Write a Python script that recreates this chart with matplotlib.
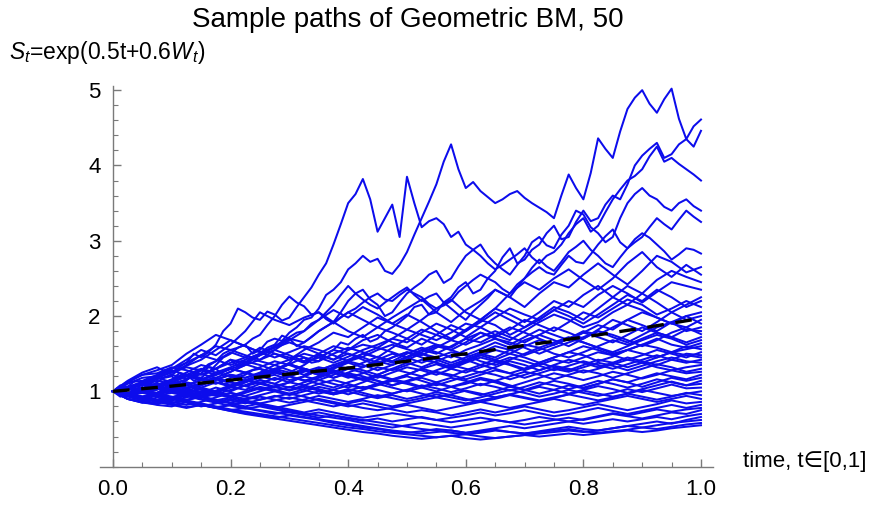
import numpy as np
import matplotlib
matplotlib.use('Agg')
import matplotlib.pyplot as plt
from matplotlib.ticker import MultipleLocator

plt.rcParams['font.family'] = ['Liberation Sans', 'DejaVu Sans']
plt.rcParams['mathtext.fontset'] = 'custom'
plt.rcParams['mathtext.rm'] = 'Liberation Sans'
plt.rcParams['mathtext.it'] = 'Liberation Sans:italic'

title = 'Sample paths of Geometric BM, 50'
ylabel = r'$S_t$=exp(0.5t+0.6$W_t$)'
xlabel = 'time, t\u2208[0,1]'

# the six paths that stand out above the band, read at t = 0, 0.0125, ..., 1.0 (81 points)
top_paths = [
    [1.00, 1.04, 0.98, 1.01, 1.06, 1.00, 1.02, 1.08, 1.10, 1.07,
     1.15, 1.22, 1.28, 1.25, 1.35, 1.45, 1.50, 1.58, 1.62, 1.50,
     1.55, 1.66, 1.70, 1.67, 1.78, 1.85, 1.95, 1.98, 2.10, 2.28,
     2.35, 2.45, 2.62, 2.70, 2.80, 2.72, 2.76, 2.60, 2.56, 2.68,
     2.85, 3.08, 3.30, 3.52, 3.75, 4.05, 4.28, 3.95, 3.70, 3.78,
     3.66, 3.58, 3.50, 3.55, 3.62, 3.66, 3.57, 3.50, 3.44, 3.38,
     3.30, 3.60, 3.88, 3.70, 3.55, 3.90, 4.36, 4.22, 4.10, 4.45,
     4.75, 4.90, 5.00, 4.82, 4.70, 4.88, 5.02, 4.62, 4.35, 4.52,
     4.61],
    [1.00, 1.08, 1.06, 1.14, 1.12, 1.10, 1.20, 1.28, 1.25, 1.32,
     1.38, 1.50, 1.45, 1.52, 1.62, 1.80, 1.90, 2.10, 2.05, 1.98,
     1.95, 2.06, 2.02, 1.94, 1.98, 2.12, 2.25, 2.38, 2.55, 2.70,
     2.95, 3.22, 3.50, 3.62, 3.82, 3.55, 3.12, 3.30, 3.48, 3.05,
     3.85, 3.50, 3.18, 3.26, 3.30, 3.22, 3.05, 3.12, 2.95, 2.88,
     2.80, 2.70, 2.62, 2.68, 2.75, 2.82, 2.90, 2.78, 2.70, 2.80,
     2.85, 2.95, 3.10, 3.22, 3.30, 3.12, 3.20, 3.38, 3.55, 3.68,
     3.80, 3.86, 3.95, 4.12, 4.25, 4.05, 4.10, 4.02, 3.95, 3.88,
     3.80],
    [1.00, 0.93, 0.95, 0.90, 0.92, 0.96, 0.98, 1.04, 1.05, 0.99,
     1.02, 1.07, 1.10, 1.16, 1.18, 1.10, 1.12, 1.19, 1.22, 1.28,
     1.30, 1.24, 1.25, 1.33, 1.38, 1.48, 1.45, 1.38, 1.40, 1.50,
     1.55, 1.65, 1.62, 1.70, 1.75, 1.66, 1.70, 1.80, 1.85, 1.92,
     2.00, 2.12, 2.15, 2.02, 2.05, 2.18, 2.25, 2.38, 2.45, 2.30,
     2.35, 2.50, 2.60, 2.78, 2.90, 2.70, 2.75, 2.88, 2.95, 3.10,
     3.20, 3.02, 3.05, 3.25, 3.40, 3.26, 3.30, 3.48, 3.60, 3.55,
     3.75, 4.00, 4.13, 4.22, 4.30, 4.10, 4.15, 4.28, 4.35, 4.25,
     4.46],
    [1.00, 0.97, 1.04, 1.09, 1.10, 1.02, 1.05, 1.12, 1.15, 1.24,
     1.22, 1.14, 1.18, 1.26, 1.30, 1.36, 1.42, 1.34, 1.38, 1.46,
     1.50, 1.58, 1.62, 1.74, 1.70, 1.60, 1.65, 1.72, 1.80, 1.86,
     1.92, 2.05, 2.20, 2.30, 2.35, 2.22, 2.15, 2.00, 2.05, 2.18,
     2.30, 2.38, 2.45, 2.55, 2.60, 2.44, 2.50, 2.66, 2.80, 2.88,
     2.95, 2.80, 2.70, 2.62, 2.55, 2.68, 2.80, 2.98, 3.05, 2.94,
     2.90, 3.08, 3.20, 3.40, 3.35, 3.18, 3.10, 2.98, 3.05, 3.30,
     3.50, 3.62, 3.70, 3.60, 3.55, 3.45, 3.40, 3.50, 3.55, 3.46,
     3.40],
    [1.00, 1.03, 0.97, 0.99, 1.03, 1.08, 1.10, 1.04, 1.08, 1.13,
     1.16, 1.20, 1.24, 1.32, 1.30, 1.22, 1.26, 1.31, 1.35, 1.42,
     1.48, 1.55, 1.60, 1.66, 1.72, 1.78, 1.80, 1.90, 1.95, 2.05,
     2.15, 2.28, 2.40, 2.30, 2.22, 2.15, 2.10, 2.18, 2.25, 2.32,
     2.38, 2.28, 2.20, 2.26, 2.30, 2.18, 2.10, 2.02, 1.95, 2.06,
     2.15, 2.24, 2.35, 2.30, 2.25, 2.38, 2.50, 2.58, 2.65, 2.58,
     2.55, 2.68, 2.80, 2.72, 2.70, 2.82, 2.95, 3.06, 3.15, 2.98,
     2.90, 2.98, 3.05, 3.18, 3.30, 3.22, 3.15, 3.28, 3.40, 3.32,
     3.25],
    [1.00, 1.02, 1.05, 1.08, 1.02, 1.06, 1.12, 1.18, 1.20, 1.12,
     1.15, 1.22, 1.28, 1.36, 1.40, 1.50, 1.55, 1.58, 1.62, 1.70,
     1.75, 1.88, 2.00, 2.15, 2.26, 2.18, 2.13, 2.02, 2.05, 1.96,
     1.90, 1.98, 2.05, 2.10, 2.18, 2.25, 2.30, 2.22, 2.20, 2.28,
     2.35, 2.30, 2.25, 2.16, 2.10, 2.14, 2.20, 2.32, 2.40, 2.48,
     2.55, 2.50, 2.45, 2.36, 2.30, 2.42, 2.50, 2.64, 2.75, 2.66,
     2.60, 2.72, 2.85, 2.92, 3.00, 2.88, 2.80, 2.70, 2.65, 2.78,
     2.90, 3.02, 3.10, 3.04, 2.95, 2.86, 2.75, 2.82, 2.90, 2.88,
     2.83],
]

# the other 44 paths forming the band, read at t = 0, 0.025, ..., 1.0 (41 points)
band_paths = [
    [1.00, 1.12, 1.22, 1.28, 1.35, 1.50, 1.62, 1.75, 1.68, 1.60, 1.52,
     1.58, 1.70, 1.65, 1.80, 1.92, 2.05, 1.95, 1.85, 1.98, 2.10,
     2.22, 2.05, 1.92, 2.08, 2.20, 2.35, 2.25, 2.12, 2.30, 2.45,
     2.38, 2.55, 2.70, 2.55, 2.42, 2.60, 2.80, 2.72, 2.58, 2.65],
    [1.00, 0.96, 1.02, 0.98, 1.06, 1.12, 1.08, 1.18, 1.26, 1.35, 1.42,
     1.55, 1.68, 1.80, 1.95, 2.08, 1.98, 2.12, 2.02, 1.90, 1.82,
     1.95, 2.10, 2.22, 2.05, 1.95, 2.10, 2.30, 2.45, 2.35, 2.50,
     2.62, 2.48, 2.35, 2.50, 2.70, 2.85, 2.65, 2.52, 2.68, 2.55],
    [1.00, 1.10, 1.18, 1.20, 1.30, 1.42, 1.55, 1.48, 1.62, 1.80, 2.05,
     1.95, 1.88, 1.98, 2.05, 1.92, 1.80, 1.72, 1.85, 1.78, 1.70,
     1.62, 1.75, 1.88, 1.80, 1.95, 2.10, 2.02, 1.92, 2.05, 2.20,
     2.12, 2.28, 2.40, 2.25, 2.15, 2.30, 2.48, 2.60, 2.52, 2.45],
    [1.00, 0.98, 0.92, 0.96, 1.02, 0.98, 1.05, 1.12, 1.08, 1.15, 1.22,
     1.30, 1.25, 1.35, 1.48, 1.42, 1.55, 1.62, 1.58, 1.70, 1.65,
     1.78, 1.90, 1.82, 1.72, 1.85, 1.98, 2.10, 2.02, 1.95, 2.08,
     2.20, 2.12, 2.28, 2.40, 2.30, 2.18, 2.32, 2.45, 2.40, 2.35],
    [1.00, 1.06, 1.10, 1.18, 1.25, 1.32, 1.28, 1.40, 1.52, 1.45, 1.58,
     1.50, 1.42, 1.55, 1.65, 1.78, 1.72, 1.85, 1.98, 1.90, 2.02,
     1.92, 1.80, 1.70, 1.82, 1.95, 1.88, 1.75, 1.85, 1.98, 2.12,
     2.05, 1.95, 2.10, 2.25, 2.40, 2.30, 2.18, 2.05, 2.15, 2.25],
    [1.00, 0.94, 0.98, 1.04, 1.00, 1.08, 1.15, 1.10, 1.18, 1.25, 1.20,
     1.28, 1.36, 1.30, 1.22, 1.32, 1.40, 1.50, 1.45, 1.58, 1.70,
     1.82, 1.75, 1.68, 1.80, 1.92, 2.05, 1.95, 1.85, 1.95, 2.08,
     2.00, 1.90, 2.02, 2.15, 2.28, 2.20, 2.35, 2.25, 2.12, 2.20],
    [1.00, 1.05, 1.12, 1.08, 1.16, 1.25, 1.35, 1.30, 1.42, 1.38, 1.48,
     1.55, 1.48, 1.40, 1.50, 1.60, 1.55, 1.68, 1.75, 1.65, 1.58,
     1.70, 1.62, 1.55, 1.65, 1.78, 1.72, 1.82, 1.95, 1.88, 1.80,
     1.92, 2.05, 1.98, 2.10, 2.22, 2.15, 2.02, 2.10, 2.20, 2.12],
    [1.00, 0.97, 1.04, 1.10, 1.06, 1.00, 1.08, 1.15, 1.22, 1.18, 1.25,
     1.35, 1.42, 1.50, 1.45, 1.38, 1.46, 1.55, 1.62, 1.70, 1.82,
     1.75, 1.68, 1.78, 1.90, 1.85, 1.75, 1.68, 1.80, 1.92, 2.02,
     1.95, 1.85, 1.92, 2.05, 2.15, 2.08, 1.98, 1.90, 2.00, 2.05],
    [1.00, 1.14, 1.25, 1.32, 1.22, 1.35, 1.48, 1.60, 1.55, 1.48, 1.42,
     1.50, 1.45, 1.38, 1.45, 1.55, 1.50, 1.42, 1.35, 1.45, 1.52,
     1.48, 1.58, 1.68, 1.62, 1.72, 1.80, 1.72, 1.65, 1.75, 1.85,
     1.78, 1.70, 1.82, 1.95, 1.88, 1.80, 1.92, 2.05, 1.95, 2.00],
    [1.00, 0.95, 0.90, 0.94, 0.88, 0.92, 0.98, 1.05, 1.00, 1.08, 1.15,
     1.10, 1.20, 1.28, 1.22, 1.30, 1.38, 1.32, 1.42, 1.50, 1.45,
     1.55, 1.62, 1.58, 1.70, 1.78, 1.70, 1.62, 1.72, 1.82, 1.75,
     1.68, 1.78, 1.88, 1.82, 1.95, 2.05, 1.98, 1.90, 1.85, 1.95],
    [1.00, 1.03, 1.10, 1.05, 1.12, 1.20, 1.15, 1.25, 1.32, 1.40, 1.35,
     1.28, 1.36, 1.45, 1.40, 1.50, 1.58, 1.52, 1.45, 1.38, 1.46,
     1.55, 1.50, 1.60, 1.70, 1.65, 1.75, 1.85, 1.78, 1.70, 1.62,
     1.70, 1.80, 1.75, 1.85, 1.95, 1.88, 1.80, 1.92, 2.00, 1.90],
    [1.00, 0.96, 1.00, 1.06, 1.14, 1.08, 1.02, 0.98, 1.05, 1.12, 1.20,
     1.28, 1.22, 1.30, 1.25, 1.18, 1.25, 1.32, 1.40, 1.35, 1.45,
     1.52, 1.60, 1.55, 1.48, 1.56, 1.65, 1.58, 1.68, 1.75, 1.68,
     1.60, 1.70, 1.80, 1.72, 1.65, 1.75, 1.85, 1.92, 1.80, 1.85],
    [1.00, 1.12, 1.14, 1.22, 1.30, 1.38, 1.48, 1.42, 1.35, 1.42, 1.50,
     1.58, 1.65, 1.58, 1.50, 1.42, 1.50, 1.45, 1.38, 1.45, 1.52,
     1.45, 1.38, 1.32, 1.40, 1.48, 1.55, 1.50, 1.60, 1.68, 1.62,
     1.70, 1.78, 1.72, 1.65, 1.75, 1.85, 1.78, 1.72, 1.82, 1.80],
    [1.00, 0.93, 0.88, 0.84, 0.92, 0.98, 0.94, 1.00, 1.06, 1.02, 1.10,
     1.18, 1.12, 1.20, 1.28, 1.35, 1.30, 1.38, 1.46, 1.40, 1.50,
     1.58, 1.52, 1.45, 1.55, 1.62, 1.70, 1.65, 1.58, 1.50, 1.58,
     1.65, 1.72, 1.80, 1.75, 1.68, 1.60, 1.68, 1.78, 1.85, 1.76],
    [1.00, 1.04, 1.12, 1.18, 1.26, 1.34, 1.42, 1.55, 1.68, 1.60, 1.52,
     1.45, 1.52, 1.60, 1.55, 1.48, 1.40, 1.46, 1.55, 1.62, 1.56,
     1.50, 1.42, 1.35, 1.42, 1.50, 1.45, 1.55, 1.62, 1.58, 1.50,
     1.45, 1.52, 1.60, 1.68, 1.62, 1.70, 1.78, 1.72, 1.65, 1.72],
    [1.00, 0.96, 1.02, 0.97, 1.03, 1.10, 1.05, 1.00, 1.06, 1.14, 1.20,
     1.15, 1.22, 1.30, 1.25, 1.32, 1.40, 1.35, 1.28, 1.35, 1.42,
     1.50, 1.45, 1.38, 1.45, 1.52, 1.60, 1.55, 1.48, 1.55, 1.62,
     1.70, 1.65, 1.58, 1.52, 1.60, 1.68, 1.75, 1.70, 1.62, 1.68],
    [1.00, 1.05, 1.10, 1.18, 1.12, 1.20, 1.28, 1.22, 1.30, 1.25, 1.18,
     1.22, 1.15, 1.20, 1.28, 1.35, 1.42, 1.50, 1.58, 1.52, 1.45,
     1.38, 1.45, 1.52, 1.48, 1.40, 1.35, 1.42, 1.50, 1.58, 1.65,
     1.72, 1.65, 1.58, 1.50, 1.55, 1.62, 1.70, 1.62, 1.58, 1.64],
    [1.00, 0.90, 0.85, 0.83, 0.90, 0.95, 1.00, 0.96, 1.02, 1.08, 1.15,
     1.10, 1.05, 1.12, 1.18, 1.25, 1.20, 1.15, 1.22, 1.30, 1.38,
     1.32, 1.40, 1.48, 1.42, 1.35, 1.42, 1.50, 1.45, 1.38, 1.45,
     1.52, 1.60, 1.55, 1.48, 1.55, 1.62, 1.58, 1.52, 1.56, 1.60],
    [1.00, 1.13, 1.22, 1.24, 1.32, 1.28, 1.22, 1.30, 1.38, 1.45, 1.40,
     1.35, 1.28, 1.22, 1.30, 1.25, 1.18, 1.24, 1.32, 1.28, 1.35,
     1.42, 1.38, 1.32, 1.40, 1.48, 1.42, 1.36, 1.30, 1.38, 1.45,
     1.52, 1.48, 1.40, 1.46, 1.55, 1.50, 1.45, 1.52, 1.60, 1.56],
    [1.00, 0.97, 0.93, 0.98, 1.04, 1.00, 0.95, 1.01, 1.08, 1.15, 1.10,
     1.05, 1.12, 1.20, 1.15, 1.22, 1.30, 1.25, 1.18, 1.25, 1.32,
     1.28, 1.22, 1.30, 1.38, 1.45, 1.40, 1.35, 1.28, 1.35, 1.42,
     1.38, 1.45, 1.52, 1.48, 1.42, 1.48, 1.55, 1.50, 1.45, 1.52],
    [1.00, 1.04, 1.00, 1.06, 1.12, 1.08, 1.15, 1.22, 1.30, 1.25, 1.32,
     1.40, 1.35, 1.28, 1.22, 1.28, 1.22, 1.16, 1.22, 1.30, 1.25,
     1.20, 1.28, 1.35, 1.30, 1.25, 1.32, 1.40, 1.35, 1.28, 1.35,
     1.42, 1.38, 1.32, 1.38, 1.45, 1.40, 1.35, 1.42, 1.50, 1.48],
    [1.00, 0.90, 0.85, 0.92, 0.86, 0.82, 0.86, 0.92, 0.98, 0.94, 1.00,
     1.06, 1.02, 1.08, 1.15, 1.10, 1.05, 1.12, 1.20, 1.15, 1.22,
     1.30, 1.25, 1.20, 1.28, 1.35, 1.30, 1.24, 1.30, 1.38, 1.32,
     1.28, 1.35, 1.42, 1.38, 1.32, 1.38, 1.45, 1.52, 1.48, 1.45],
    [1.00, 1.06, 1.12, 1.08, 1.15, 1.22, 1.18, 1.12, 1.06, 1.12, 1.18,
     1.25, 1.20, 1.14, 1.20, 1.26, 1.32, 1.28, 1.22, 1.16, 1.22,
     1.30, 1.36, 1.30, 1.25, 1.32, 1.38, 1.45, 1.40, 1.34, 1.28,
     1.34, 1.40, 1.35, 1.30, 1.36, 1.42, 1.48, 1.42, 1.38, 1.42],
    [1.00, 0.97, 1.02, 0.96, 0.92, 0.97, 1.03, 0.99, 0.94, 1.00, 1.06,
     1.02, 0.97, 1.03, 1.10, 1.05, 1.12, 1.18, 1.14, 1.08, 1.14,
     1.20, 1.26, 1.22, 1.16, 1.22, 1.28, 1.24, 1.18, 1.24, 1.30,
     1.26, 1.32, 1.38, 1.34, 1.28, 1.34, 1.40, 1.45, 1.40, 1.38],
    [1.00, 1.05, 1.12, 1.20, 1.28, 1.22, 1.16, 1.22, 1.30, 1.36, 1.30,
     1.25, 1.20, 1.26, 1.32, 1.28, 1.22, 1.16, 1.10, 1.15, 1.20,
     1.14, 1.08, 1.14, 1.20, 1.26, 1.22, 1.16, 1.22, 1.28, 1.34,
     1.30, 1.25, 1.30, 1.36, 1.42, 1.38, 1.32, 1.28, 1.32, 1.35],
    [1.00, 0.96, 0.92, 0.88, 0.84, 0.88, 0.93, 0.98, 0.94, 0.90, 0.95,
     1.00, 1.06, 1.02, 0.97, 1.02, 1.08, 1.04, 1.10, 1.16, 1.12,
     1.06, 1.12, 1.18, 1.14, 1.08, 1.14, 1.20, 1.26, 1.22, 1.16,
     1.22, 1.28, 1.24, 1.18, 1.24, 1.30, 1.36, 1.32, 1.26, 1.30],
    [1.00, 1.03, 1.08, 1.14, 1.10, 1.05, 1.10, 1.16, 1.22, 1.18, 1.24,
     1.30, 1.36, 1.30, 1.24, 1.18, 1.24, 1.20, 1.14, 1.08, 1.13,
     1.18, 1.12, 1.06, 1.10, 1.16, 1.12, 1.06, 1.12, 1.18, 1.24,
     1.20, 1.15, 1.20, 1.26, 1.22, 1.17, 1.22, 1.28, 1.24, 1.26],
    [1.00, 0.95, 1.00, 0.96, 1.02, 0.98, 0.93, 0.88, 0.92, 0.98, 1.04,
     1.00, 0.95, 1.00, 1.06, 1.02, 0.96, 1.02, 1.08, 1.14, 1.10,
     1.05, 1.00, 1.06, 1.12, 1.18, 1.14, 1.08, 1.02, 1.08, 1.14,
     1.10, 1.05, 1.10, 1.16, 1.12, 1.18, 1.24, 1.20, 1.16, 1.22],
    [1.00, 1.06, 1.02, 1.08, 1.15, 1.22, 1.30, 1.25, 1.20, 1.14, 1.20,
     1.26, 1.20, 1.15, 1.10, 1.15, 1.10, 1.04, 1.10, 1.05, 1.00,
     1.05, 1.10, 1.06, 1.00, 0.95, 1.00, 1.06, 1.02, 0.97, 1.02,
     1.08, 1.04, 1.10, 1.16, 1.12, 1.06, 1.12, 1.18, 1.14, 1.18],
    [1.00, 0.90, 0.86, 0.84, 0.90, 0.85, 0.80, 0.84, 0.88, 0.84, 0.89,
     0.94, 0.90, 0.95, 1.00, 0.96, 1.01, 1.06, 1.02, 0.97, 1.02,
     1.08, 1.04, 0.99, 1.04, 1.10, 1.06, 1.01, 1.06, 1.12, 1.08,
     1.03, 1.08, 1.14, 1.10, 1.05, 1.10, 1.16, 1.12, 1.08, 1.14],
    [1.00, 1.04, 1.09, 1.04, 0.99, 1.04, 1.10, 1.16, 1.12, 1.07, 1.02,
     1.07, 1.12, 1.08, 1.03, 0.98, 1.03, 0.98, 0.93, 0.97, 1.02,
     0.97, 0.92, 0.96, 1.01, 0.97, 0.92, 0.96, 1.01, 1.06, 1.02,
     0.97, 1.02, 1.07, 1.03, 0.98, 1.03, 1.08, 1.13, 1.08, 1.10],
    [1.00, 0.97, 0.93, 0.97, 0.93, 0.89, 0.93, 0.89, 0.85, 0.89, 0.93,
     0.89, 0.85, 0.89, 0.94, 0.90, 0.86, 0.90, 0.95, 0.91, 0.87,
     0.91, 0.96, 0.92, 0.88, 0.92, 0.97, 1.02, 0.98, 0.93, 0.97,
     1.02, 0.98, 0.94, 0.98, 1.03, 0.99, 1.04, 1.09, 1.04, 1.05],
    [1.00, 1.05, 1.10, 1.16, 1.22, 1.17, 1.23, 1.18, 1.12, 1.07, 1.12,
     1.06, 1.01, 1.06, 1.01, 0.96, 1.00, 0.95, 0.91, 0.95, 0.90,
     0.94, 0.99, 0.95, 0.90, 0.86, 0.90, 0.95, 0.91, 0.87, 0.91,
     0.96, 1.01, 0.97, 0.93, 0.97, 1.02, 0.98, 0.94, 0.97, 1.00],
    [1.00, 0.96, 1.00, 1.05, 1.00, 0.96, 0.92, 0.96, 0.92, 0.88, 0.84,
     0.88, 0.92, 0.88, 0.84, 0.80, 0.84, 0.88, 0.84, 0.80, 0.84,
     0.88, 0.92, 0.88, 0.84, 0.88, 0.92, 0.96, 0.92, 0.88, 0.92,
     0.96, 0.92, 0.88, 0.92, 0.97, 0.93, 0.89, 0.93, 0.98, 0.95],
    [1.00, 0.90, 0.86, 0.82, 0.80, 0.86, 0.82, 0.78, 0.82, 0.86, 0.82,
     0.78, 0.82, 0.86, 0.90, 0.86, 0.82, 0.78, 0.75, 0.78, 0.82,
     0.78, 0.74, 0.78, 0.82, 0.86, 0.82, 0.78, 0.82, 0.86, 0.90,
     0.86, 0.82, 0.86, 0.90, 0.94, 0.90, 0.86, 0.90, 0.94, 0.90],
    [1.00, 1.04, 0.99, 1.03, 1.08, 1.03, 0.98, 0.94, 0.98, 0.93, 0.89,
     0.93, 0.97, 0.93, 0.88, 0.84, 0.80, 0.84, 0.80, 0.76, 0.72,
     0.75, 0.72, 0.68, 0.72, 0.76, 0.72, 0.76, 0.80, 0.76, 0.72,
     0.75, 0.79, 0.83, 0.79, 0.75, 0.79, 0.83, 0.88, 0.84, 0.86],
    [1.00, 0.97, 0.92, 0.88, 0.92, 0.87, 0.83, 0.79, 0.75, 0.78, 0.74,
     0.70, 0.73, 0.69, 0.65, 0.68, 0.64, 0.61, 0.64, 0.60, 0.63,
     0.66, 0.62, 0.65, 0.68, 0.72, 0.68, 0.71, 0.75, 0.71, 0.67,
     0.70, 0.74, 0.78, 0.74, 0.70, 0.74, 0.78, 0.82, 0.78, 0.82],
    [1.00, 1.03, 0.98, 0.94, 0.98, 0.94, 0.90, 0.86, 0.90, 0.86, 0.82,
     0.78, 0.74, 0.71, 0.68, 0.65, 0.62, 0.58, 0.55, 0.52, 0.55,
     0.58, 0.55, 0.52, 0.55, 0.58, 0.62, 0.59, 0.62, 0.66, 0.63,
     0.60, 0.63, 0.67, 0.71, 0.68, 0.72, 0.76, 0.73, 0.76, 0.78],
    [1.00, 0.96, 0.92, 0.96, 1.00, 0.96, 0.92, 0.88, 0.84, 0.80, 0.84,
     0.80, 0.76, 0.72, 0.76, 0.72, 0.68, 0.65, 0.68, 0.71, 0.68,
     0.65, 0.62, 0.59, 0.62, 0.65, 0.62, 0.59, 0.56, 0.59, 0.62,
     0.65, 0.62, 0.66, 0.70, 0.67, 0.64, 0.68, 0.72, 0.70, 0.75],
    [1.00, 0.95, 0.90, 0.86, 0.82, 0.78, 0.82, 0.78, 0.74, 0.71, 0.68,
     0.65, 0.68, 0.65, 0.62, 0.58, 0.55, 0.52, 0.50, 0.47, 0.45,
     0.47, 0.50, 0.48, 0.45, 0.48, 0.51, 0.54, 0.51, 0.54, 0.57,
     0.60, 0.57, 0.60, 0.63, 0.60, 0.63, 0.66, 0.63, 0.67, 0.70],
    [1.00, 1.04, 1.00, 0.95, 0.90, 0.94, 0.89, 0.85, 0.81, 0.77, 0.80,
     0.76, 0.72, 0.69, 0.72, 0.68, 0.65, 0.62, 0.59, 0.56, 0.53,
     0.50, 0.48, 0.45, 0.43, 0.45, 0.48, 0.46, 0.44, 0.47, 0.50,
     0.53, 0.50, 0.48, 0.51, 0.54, 0.57, 0.60, 0.57, 0.62, 0.66],
    [1.00, 0.97, 0.93, 0.89, 0.85, 0.88, 0.84, 0.80, 0.76, 0.73, 0.70,
     0.67, 0.64, 0.61, 0.58, 0.55, 0.52, 0.50, 0.47, 0.45, 0.43,
     0.41, 0.39, 0.41, 0.43, 0.40, 0.38, 0.40, 0.42, 0.44, 0.46,
     0.48, 0.46, 0.48, 0.51, 0.54, 0.52, 0.55, 0.58, 0.60, 0.62],
    [1.00, 0.96, 0.92, 0.88, 0.91, 0.87, 0.83, 0.79, 0.82, 0.78, 0.75,
     0.72, 0.69, 0.66, 0.63, 0.60, 0.57, 0.54, 0.51, 0.48, 0.46,
     0.44, 0.46, 0.48, 0.45, 0.47, 0.49, 0.46, 0.44, 0.46, 0.48,
     0.50, 0.47, 0.45, 0.47, 0.49, 0.52, 0.50, 0.53, 0.56, 0.58],
    [1.00, 0.95, 0.91, 0.87, 0.83, 0.79, 0.82, 0.78, 0.74, 0.70, 0.67,
     0.64, 0.61, 0.58, 0.55, 0.52, 0.49, 0.46, 0.44, 0.41, 0.39,
     0.37, 0.39, 0.41, 0.38, 0.36, 0.38, 0.40, 0.42, 0.40, 0.42,
     0.44, 0.42, 0.44, 0.46, 0.48, 0.46, 0.48, 0.51, 0.53, 0.55],
]

# expected value curve E[S_t], read at t = 0, 0.1, ..., 1.0
mean_t = [0.0, 0.1, 0.2, 0.3, 0.4, 0.5, 0.6, 0.7, 0.8, 0.9, 1.0]
mean_s = [1.00, 1.07, 1.15, 1.23, 1.31, 1.40, 1.50, 1.61, 1.72, 1.84, 1.97]

fig = plt.figure(figsize=(8.82, 5.22), dpi=100)
ax = fig.add_axes([0.1134, 0.106, 0.6947, 0.7285])

for p in band_paths + top_paths:
    t = np.linspace(0, 1, len(p))
    ax.plot(t, p, color='#0c0cec', linewidth=1.45, zorder=2)

ax.plot(mean_t, mean_s, color='black', linewidth=2.4, dashes=(5, 3.5), zorder=3)

ax.set_xlim(-0.022, 1.02)
ax.set_ylim(0, 5.05)

axis_col = '#7a7a7a'
for side in ['top', 'right']:
    ax.spines[side].set_visible(False)
ax.spines['left'].set_position(('data', 0))
ax.spines['left'].set_bounds(0, 5.05)
for side in ['left', 'bottom']:
    ax.spines[side].set_color(axis_col)
    ax.spines[side].set_linewidth(1.0)

ax.set_xticks([0.0, 0.2, 0.4, 0.6, 0.8, 1.0])
ax.set_xticklabels(['0.0', '0.2', '0.4', '0.6', '0.8', '1.0'])
ax.set_yticks([1, 2, 3, 4, 5])
ax.xaxis.set_minor_locator(MultipleLocator(0.05))
ax.yaxis.set_minor_locator(MultipleLocator(0.2))
ax.tick_params(which='both', direction='in', color=axis_col, labelsize=16,
               labelcolor='black')
ax.tick_params(which='major', length=6, width=1.0, pad=9)
ax.tick_params(which='minor', length=3.5, width=0.8)

fig.text(0.462, 0.962, title, ha='center', va='center', fontsize=20)
fig.text(0.010, 0.900, ylabel, ha='left', va='center', fontsize=16.5)
fig.text(0.842, 0.115, xlabel, ha='left', va='center', fontsize=16)

fig.savefig('out.png', dpi=100)
